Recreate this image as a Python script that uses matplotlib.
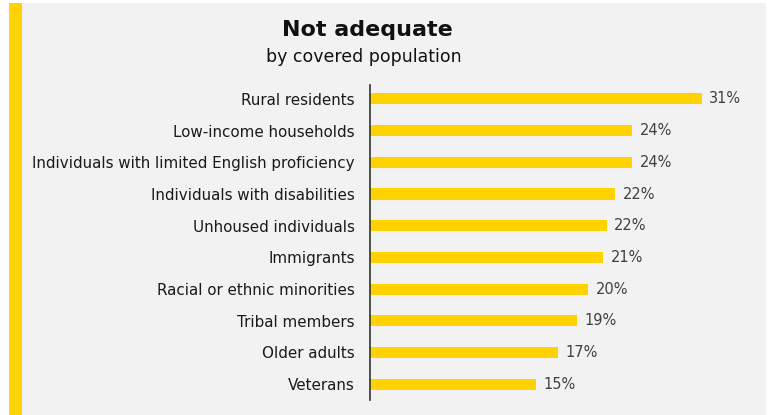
import matplotlib
matplotlib.use("Agg")
import matplotlib.pyplot as plt
import numpy as np
from matplotlib.patches import Rectangle

categories = ["Rural residents", "Low-income households",
              "Individuals with limited English proficiency",
              "Individuals with disabilities", "Unhoused individuals",
              "Immigrants", "Racial or ethnic minorities", "Tribal members",
              "Older adults", "Veterans"]
values = [30.7, 24.3, 24.3, 22.7, 21.9, 21.6, 20.2, 19.2, 17.4, 15.4]
value_labels = ["31%", "24%", "24%", "22%", "22%", "21%", "20%", "19%", "17%", "15%"]

YELLOW = "#FFD200"
GRAY_BG = "#F2F2F2"

plt.rcParams['font.family'] = ['DejaVu Sans']

fig = plt.figure(figsize=(7.68, 4.15), dpi=100)
fig.patch.set_facecolor("white")
# background panel + yellow stripe on the left
fig.patches.append(Rectangle((22/768, 0), 744/768, 1 - 3/415, transform=fig.transFigure,
                             facecolor=GRAY_BG, edgecolor="none", zorder=-2))
fig.patches.append(Rectangle((9/768, 0), 13/768, 1 - 3/415, transform=fig.transFigure,
                             facecolor=YELLOW, edgecolor="none", zorder=-1))

ax = fig.add_axes([370/768, 1 - 400/415, 375/768, 315/415])
ax.set_facecolor("none")

y = np.arange(len(categories))
ax.barh(y, values, height=0.35, color=YELLOW)
for yi, v, lab in zip(y, values, value_labels):
    ax.text(v + 0.7, yi, lab, va="center", ha="left", fontsize=10.5, color="#404040")

ax.set_xlim(0, 375 / 10.8)
ax.set_ylim(9.5, -0.44)
ax.set_yticks(y)
ax.set_yticklabels(categories, fontsize=10.9, color="#1a1a1a")
ax.tick_params(axis="y", length=0, pad=11)
ax.set_xticks([])
for s in ["top", "right", "bottom"]:
    ax.spines[s].set_visible(False)
ax.spines["left"].set_color("#333333")
ax.spines["left"].set_linewidth(1.2)

fig.text(367/768, 1 - 30/415, "Not adequate", ha="center", va="center",
         fontsize=16, fontweight="bold", color="#111111")
fig.text(364/768, 1 - 57/415, "by covered population", ha="center", va="center",
         fontsize=12.5, color="#111111")

fig.savefig("out.png", dpi=100)
